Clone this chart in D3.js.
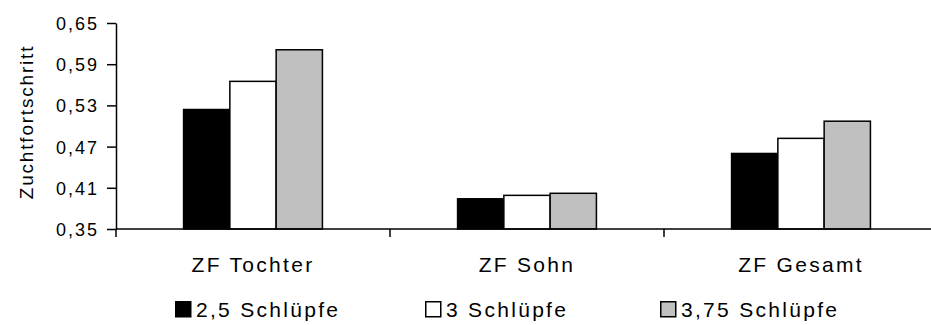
<!DOCTYPE html>
<html>
<head>
<meta charset="utf-8">
<script src="https://cdn.jsdelivr.net/npm/d3@7"></script>
<style>
  body { margin: 0; background: #fff; }
  svg text { font-family: 'Liberation Sans', Arial, sans-serif; fill: #000; }
</style>
</head>
<body>
<div id="chart"></div>
<script>
// Chart data
const categories = ['ZF Tochter', 'ZF Sohn', 'ZF Gesamt']
const series = ['2,5 Schlüpfe', '3 Schlüpfe', '3,75 Schlüpfe']
const colors = ['#000000', '#ffffff', '#c0c0c0']
const values25 = [0.524, 0.394, 0.460]
const values3 = [0.565, 0.399, 0.482]
const values375 = [0.611, 0.402, 0.507]
const yTicks = [0.35, 0.41, 0.47, 0.53, 0.59, 0.65]

const seriesValues = [values25, values3, values375]

const width = 931
const height = 325
const plot = { left: 116, right: 938, top: 23, bottom: 229 }

const svg = d3.select('#chart')
  .append('svg')
  .attr('width', width)
  .attr('height', height)

// Scales
const x = d3.scaleBand()
  .domain(categories)
  .range([plot.left, plot.right])

const xInner = d3.scaleBand()
  .domain(series)
  .range([0, x.bandwidth()])
  .paddingInner(0)
  .paddingOuter(1.46)

const y = d3.scaleLinear()
  .domain([0.35, 0.65])
  .range([plot.bottom, plot.top])

const comma = v => d3.format('.2f')(v).replace('.', ',')

// Bars
const rows = categories.map((c, i) => ({
  category: c,
  bars: series.map((s, j) => ({ series: s, value: seriesValues[j][i], color: colors[j] }))
}))

const group = svg.selectAll('g.group')
  .data(rows)
  .enter().append('g')
  .attr('class', 'group')
  .attr('transform', d => `translate(${x(d.category)},0)`)

group.selectAll('rect')
  .data(d => d.bars)
  .enter().append('rect')
  .attr('x', d => xInner(d.series))
  .attr('y', d => y(d.value))
  .attr('width', xInner.bandwidth())
  .attr('height', d => y(0.35) - y(d.value))
  .attr('fill', d => d.color)
  .attr('stroke', '#000')
  .attr('stroke-width', 1.5)

// Y axis
const yAxis = svg.append('g')
  .attr('transform', `translate(${plot.left},0)`)
  .call(d3.axisLeft(y).tickValues(yTicks).tickSize(9).tickSizeOuter(0).tickPadding(8).tickFormat(comma))

yAxis.selectAll('text')
  .style('font-size', '18px')
  .style('letter-spacing', '2px')
  .attr('dy', '0.36em')
yAxis.selectAll('line, path').attr('stroke', '#000').attr('stroke-width', 1.5)

// X axis line and boundary ticks
svg.append('line')
  .attr('x1', plot.left).attr('x2', width)
  .attr('y1', y(0.35)).attr('y2', y(0.35))
  .attr('stroke', '#000').attr('stroke-width', 1.5)

svg.selectAll('line.xtick')
  .data(categories)
  .enter().append('line')
  .attr('class', 'xtick')
  .attr('x1', d => x(d)).attr('x2', d => x(d))
  .attr('y1', y(0.35)).attr('y2', y(0.35) + 8)
  .attr('stroke', '#000').attr('stroke-width', 1.5)

// Category labels
svg.selectAll('text.cat')
  .data(categories)
  .enter().append('text')
  .attr('class', 'cat')
  .attr('x', d => x(d) + x.bandwidth() / 2)
  .attr('y', 272)
  .attr('text-anchor', 'middle')
  .style('font-size', '21px')
  .style('letter-spacing', '2.3px')
  .text(d => d)

// Y label
svg.append('text')
  .attr('transform', 'translate(33,122) rotate(-90)')
  .attr('text-anchor', 'middle')
  .style('font-size', '19px')
  .style('letter-spacing', '1.8px')
  .text('Zuchtfortschritt')

// Legend
const legendX = [175, 425, 660]
const legend = svg.selectAll('g.legend')
  .data(series)
  .enter().append('g')
  .attr('class', 'legend')
  .attr('transform', (d, i) => `translate(${legendX[i]},0)`)

legend.append('rect')
  .attr('x', 0.75).attr('y', 301.75)
  .attr('width', 15).attr('height', 15)
  .attr('fill', (d, i) => colors[i])
  .attr('stroke', '#000').attr('stroke-width', 1.5)

legend.append('text')
  .attr('x', 21)
  .attr('y', 317)
  .style('font-size', '21px')
  .style('letter-spacing', '2.3px')
  .text(d => d)
</script>
</body>
</html>
